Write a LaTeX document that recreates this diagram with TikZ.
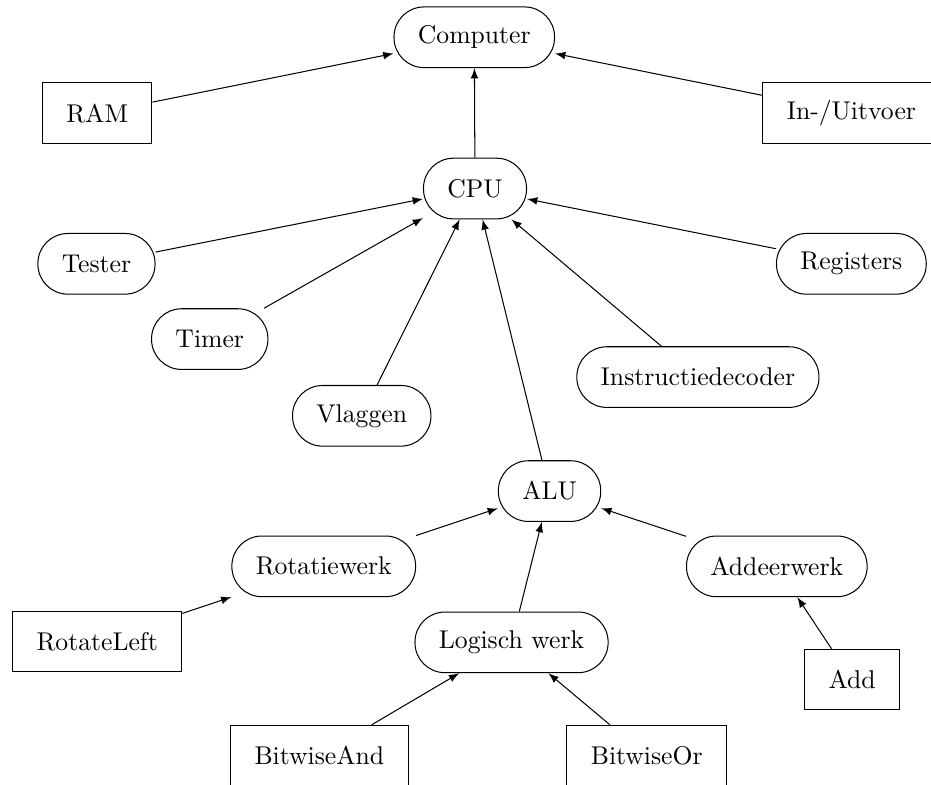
\documentclass[tikz,border=0pt]{standalone}
\usepackage{tikz}
\usetikzlibrary{arrows, positioning}

\begin{document}
\begin{tikzpicture}

\tikzstyle{roundnode}=[draw, rounded corners=0.41cm, minimum height=0.83cm, inner xsep=9.3pt]
\tikzstyle{boxnode}=[draw, minimum height=0.83cm, inner xsep=9.3pt]

\clip (0,0) rectangle (12.74,-10.74);

% NODES
% top level
\node[roundnode](comp) at (6.49,-0.51){Computer};
\node[boxnode](ram) at (1.33,-1.55){RAM};
\node[boxnode](io) at (11.65,-1.55){In-/Uitvoer};
\node[roundnode](cpu) at (6.50,-2.58){CPU};

% cpu parts
\node[roundnode](tester) at (1.32,-3.61){Tester};
\node[roundnode](regs) at (11.65,-3.61){Registers};
\node[roundnode](timer) at (2.87,-4.64){Timer};
\node[roundnode](flags) at (4.95,-5.69){Vlaggen};
\node[roundnode](decoder) at (9.55,-5.16){Instructiedecoder};
\node[roundnode](alu) at (7.52,-6.72){ALU};

% alu parts
\node[roundnode](rot) at (4.43,-7.75){Rotatiewerk};
\node[roundnode](adder) at (10.63,-7.75){Addeerwerk};
\node[roundnode](logic) at (7.00,-8.79){Logisch werk};
\node[boxnode](rotl) at (1.33,-8.78){RotateLeft};
\node[boxnode](add) at (11.66,-9.30){Add};
\node[boxnode](band) at (4.37,-10.34){BitwiseAnd};
\node[boxnode](bor) at (8.85,-10.34){BitwiseOr};

% ARROWS
\draw[->, >=latex](ram) -- (comp);
\draw[->, >=latex](io) -- (comp);
\draw[->, >=latex](cpu) -- (comp);

\draw[->, >=latex](tester) -- (cpu);
\draw[->, >=latex](regs) -- (cpu);
\draw[->, >=latex](timer) -- (cpu);
\draw[->, >=latex](flags) -- (cpu);
\draw[->, >=latex](decoder) -- (cpu);
\draw[->, >=latex](alu) -- (cpu);

\draw[->, >=latex](rot) -- (alu);
\draw[->, >=latex](logic) -- (alu);
\draw[->, >=latex](adder) -- (alu);

\draw[->, >=latex](rotl) -- (rot);
\draw[->, >=latex](add) -- (adder);
\draw[->, >=latex](band) -- (logic);
\draw[->, >=latex](bor) -- (logic);

\end{tikzpicture}
\end{document}
